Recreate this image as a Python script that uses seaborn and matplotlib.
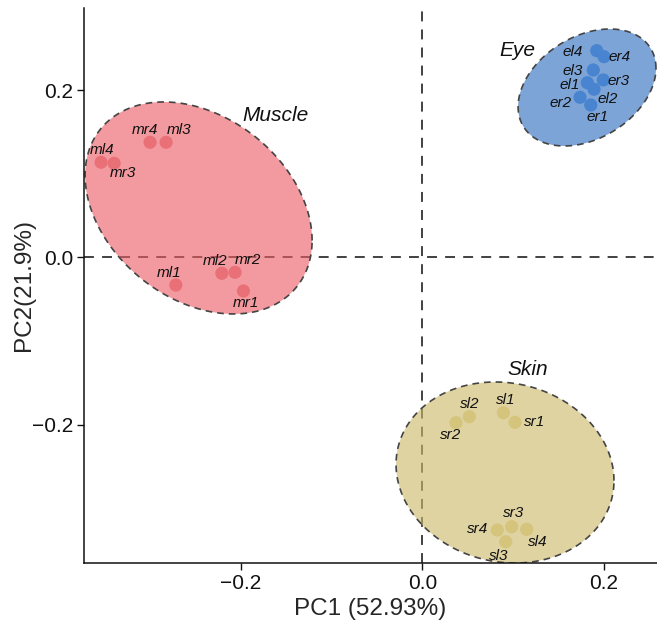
import numpy as np
import pandas as pd
import matplotlib
matplotlib.use("Agg")
import matplotlib.pyplot as plt
import seaborn as sns

# PCA scores per sample
samples = ["el1", "el2", "el3", "el4", "er1", "er2", "er3", "er4",
           "ml1", "ml2", "ml3", "ml4", "mr1", "mr2", "mr3", "mr4",
           "sl1", "sl2", "sl3", "sl4", "sr1", "sr2", "sr3", "sr4"]
tissue = ["Eye"] * 8 + ["Muscle"] * 8 + ["Skin"] * 8
pc1 = [0.1818, 0.1892, 0.1884, 0.1922, 0.1856, 0.1738, 0.1994, 0.2002,
       -0.2717, -0.2210, -0.2824, -0.3541, -0.1972, -0.2064, -0.3397, -0.3001,
       0.0893, 0.0518, 0.0919, 0.1150, 0.1021, 0.0371, 0.0985, 0.0826]
pc2 = [0.2089, 0.2011, 0.2241, 0.2472, 0.1823, 0.1915, 0.2122, 0.2400,
       -0.0329, -0.0189, 0.1377, 0.1138, -0.0400, -0.0177, 0.1126, 0.1377,
       -0.1855, -0.1903, -0.3397, -0.3249, -0.1970, -0.1975, -0.3218, -0.3257]

# Confidence ellipses per tissue: centre, half extents and correlation
groups = ["Eye", "Muscle", "Skin"]
ell_cx = [0.1815, -0.2466, 0.0911]
ell_cy = [0.2032, 0.0592, -0.2570]
ell_rx = [0.0760, 0.1251, 0.1201]
ell_ry = [0.0699, 0.1267, 0.1082]
ell_r = [0.33, -0.307, -0.09]
group_label_x = [0.1049, -0.1616, 0.1163]
group_label_y = [0.2480, 0.1694, -0.1335]

fill_colors = {"Eye": "#2d6cbf", "Muscle": "#ea5d64", "Skin": "#ccb969"}
point_colors = {"Eye": "#4884cf", "Muscle": "#ea7078", "Skin": "#d5c47c"}

# label offsets (in points) relative to each sample's marker
label_offsets = {
    "el4": (-17, -1), "er4": (11, 0), "el3": (-15, -1), "er3": (11, -1),
    "el1": (-13, -2), "el2": (10, -7), "er2": (-14, -4), "er1": (5, -9),
    "mr4": (-4, 9), "ml3": (9, 9), "ml4": (1, 9), "mr3": (6, -7),
    "ml1": (-5, 9), "ml2": (-5, 9), "mr2": (9, 9), "mr1": (2, -9),
    "sl2": (0, 9), "sr2": (-4, -9), "sl1": (2, 9), "sr1": (14, 0),
    "sr3": (1, 10), "sr4": (-14, 1), "sl4": (8, -9), "sl3": (-5, -10),
}

df = pd.DataFrame({"sample": samples, "tissue": tissue, "PC1": pc1, "PC2": pc2})

sns.set_style("ticks")
plt.rcParams["font.family"] = ["Liberation Sans", "DejaVu Sans"]

fig = plt.figure(figsize=(6.57, 6.21), dpi=100)
ax = fig.add_axes([84 / 657, (621 - 563.3) / 621, (657 - 84) / 657, (563.3 - 7.5) / 621])

ax.axhline(0, color="#333333", lw=1.3, ls=(0, (5.5, 4.5)), zorder=0)
ax.axvline(0, color="#333333", lw=1.3, ls=(0, (5.5, 4.5)), zorder=0)

t = np.linspace(0, 2 * np.pi, 300)
for g, cx, cy, rx, ry, r in zip(groups, ell_cx, ell_cy, ell_rx, ell_ry, ell_r):
    ex = cx + rx * np.cos(t)
    ey = cy + ry * (r * np.cos(t) + np.sqrt(1 - r ** 2) * np.sin(t))
    ax.fill(ex, ey, color=fill_colors[g], alpha=0.62, lw=0, zorder=1)
    ax.plot(ex, ey, color="#444444", lw=1.2, ls=(0, (4, 3)), zorder=2)

sns.scatterplot(data=df, x="PC1", y="PC2", hue="tissue", palette=point_colors,
                s=90, linewidth=0, legend=False, ax=ax, zorder=3)

for s, x, y in zip(samples, pc1, pc2):
    dx, dy = label_offsets[s]
    ax.annotate(s, (x, y), xytext=(dx, dy), textcoords="offset points",
                ha="center", va="center", fontsize=11, fontstyle="italic",
                color="#111111", zorder=4)

for g, x, y in zip(groups, group_label_x, group_label_y):
    ax.text(x, y, g, ha="center", va="center", fontsize=15,
            fontstyle="italic", color="#111111", zorder=4)

ax.set_xlim(-0.3729, 0.2586)
ax.set_ylim(-0.3655, 0.2988)
ax.set_xticks([-0.2, 0.0, 0.2])
ax.set_yticks([-0.2, 0.0, 0.2])
ax.set_xticklabels(["\u22120.2", "0.0", "0.2"])
ax.set_yticklabels(["\u22120.2", "0.0", "0.2"])
ax.tick_params(axis="both", labelsize=15, length=5, width=1, pad=3, colors="#111111")
ax.set_xlabel("PC1 (52.93%)", fontsize=17.5, labelpad=3)
ax.set_ylabel("PC2(21.9%)", fontsize=17.5)
ax.yaxis.set_label_coords(-0.086, 0.5)
sns.despine(ax=ax)
for sp in ["left", "bottom"]:
    ax.spines[sp].set_linewidth(1.1)
    ax.spines[sp].set_color("#111111")

fig.savefig("out.png", dpi=100)
